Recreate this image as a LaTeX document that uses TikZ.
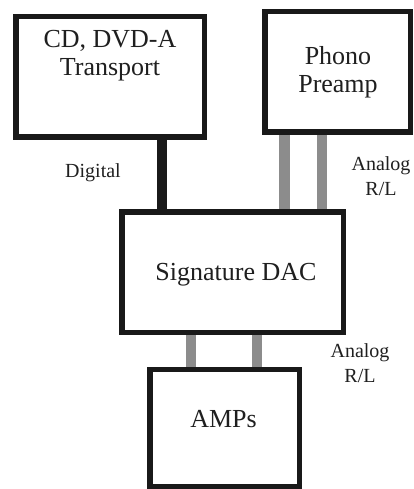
\documentclass[tikz,border=0pt]{standalone}
\usepackage{fontspec}
\setmainfont{Liberation Serif}
\tikzset{
  box/.style={draw=black!90, line width=5.5pt, fill=white, inner sep=0pt, rectangle},
  bigtxt/.style={font=\fontsize{26}{28}\selectfont, anchor=base, inner sep=0pt, text=black!88},
  smalltxt/.style={font=\fontsize{20}{24}\selectfont, anchor=base, inner sep=0pt, text=black!88},
  digwire/.style={line width=10pt, draw=black!90},
  anwire/.style={line width=10.5pt, draw=black!45},
}
\begin{document}
\begin{tikzpicture}[x=1pt,y=-1pt]
\useasboundingbox (0,0) rectangle (414,489);
% boxes (path centres)
\node[box, minimum width=188.5pt, minimum height=120.5pt] (cd) at (110,77) {};
\node[box, minimum width=145.5pt, minimum height=120.5pt] (phono) at (337.5,72) {};
\node[box, minimum width=221.5pt, minimum height=120.5pt] (dac) at (232.5,272) {};
\node[box, minimum width=149.5pt, minimum height=117.5pt] (amp) at (224.5,428.25) {};
% connectors
\coordinate (xd) at (162,0);
\coordinate (xa1) at (284.5,0);
\coordinate (xa2) at (322,0);
\coordinate (xb1) at (191,0);
\coordinate (xb2) at (257,0);
\draw[digwire] (cd.south -| xd) -- (dac.north -| xd);
\draw[anwire] (phono.south -| xa1) -- (dac.north -| xa1);
\draw[anwire] (phono.south -| xa2) -- (dac.north -| xa2);
\draw[anwire] (dac.south -| xb1) -- (amp.north -| xb1);
\draw[anwire] (dac.south -| xb2) -- (amp.north -| xb2);
% texts
\node[bigtxt] (cdt1) at (110,48) {CD, DVD-A};
\node[bigtxt] (cdt2) at (110,75.5) {Transport};
\node[bigtxt] (pht1) at (338,65) {Phono};
\node[bigtxt] (pht2) at (338,92.5) {Preamp};
\node[bigtxt] (dact) at (236,280) {Signature DAC};
\node[bigtxt] (ampt) at (223.5,427) {AMPs};
\node[smalltxt] (digt) at (93,177) {Digital};
\node[smalltxt] (an1a) at (381,170) {Analog};
\node[smalltxt] (an1b) at (381,195) {R/L};
\node[smalltxt] (an2a) at (360,357) {Analog};
\node[smalltxt] (an2b) at (360,382) {R/L};
\end{tikzpicture}
\end{document}
